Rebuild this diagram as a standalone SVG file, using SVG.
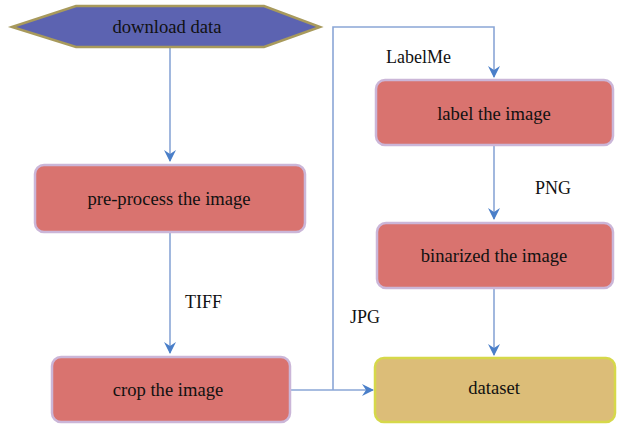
<svg xmlns="http://www.w3.org/2000/svg" width="620" height="427" viewBox="0 0 620 427">
  <style>
    .step { fill: #d9736f; stroke: #cbb6d8; stroke-width: 2.5; }
    .goal { fill: #dcbd78; stroke: #d6d84a; stroke-width: 2.5; }
    .start { fill: #5c63b1; stroke: #a89a5c; stroke-width: 2.5; }
    .wire { fill: none; stroke: #8aa6d6; stroke-width: 1.6; }
    .mid { text-anchor: middle; }
  </style>
  <defs>
    <marker id="arrow" viewBox="0 0 12 12" refX="11" refY="6" markerWidth="12" markerHeight="12" markerUnits="userSpaceOnUse" orient="auto">
      <path d="M0,0 L12,6 L0,12 L4,6 Z" fill="#4a7fc9"/>
    </marker>
  </defs>
  <rect width="620" height="427" fill="#ffffff"/>

  <g id="connectors">
    <path class="wire" d="M170,47 V161" marker-end="url(#arrow)"/>
    <path class="wire" d="M170,232 V353" marker-end="url(#arrow)"/>
    <path class="wire" d="M290,390 H373" marker-end="url(#arrow)"/>
    <path class="wire" d="M333,390 V27 H494 V77" marker-end="url(#arrow)"/>
    <path class="wire" d="M494,145 V219" marker-end="url(#arrow)"/>
    <path class="wire" d="M494,288 V355" marker-end="url(#arrow)"/>
  </g>

  <g font-family="'Liberation Serif', 'Times New Roman', serif" font-size="18.6" fill="#111">
    <g id="download">
      <polygon class="start" points="12,27 76,6 264,6 320,27 264,47 76,47"/>
      <text class="mid" x="167" y="33">download data</text>
    </g>
    <g id="preprocess">
      <rect class="step" x="35" y="165" width="270" height="67" rx="9"/>
      <text class="mid" x="169" y="205">pre-process the image</text>
    </g>
    <g id="crop">
      <rect class="step" x="52" y="357" width="238" height="65" rx="9"/>
      <text class="mid" x="168" y="396">crop the image</text>
    </g>
    <g id="label">
      <rect class="step" x="376" y="80" width="237" height="65" rx="9"/>
      <text class="mid" x="494" y="120">label the image</text>
    </g>
    <g id="binarize">
      <rect class="step" x="377" y="223" width="236" height="65" rx="9"/>
      <text class="mid" x="494" y="262">binarized the image</text>
    </g>
    <g id="dataset">
      <rect class="goal" x="375" y="358" width="240" height="64" rx="9"/>
      <text class="mid" x="494" y="394">dataset</text>
    </g>
    <g id="edge-labels" font-size="18">
      <text x="185" y="308">TIFF</text>
      <text x="350" y="323">JPG</text>
      <text x="386" y="63">LabelMe</text>
      <text x="535" y="194">PNG</text>
    </g>
  </g>
</svg>
